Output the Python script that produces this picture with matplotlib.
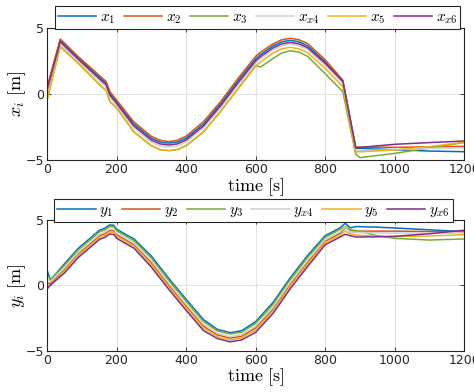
import matplotlib
matplotlib.use("Agg")
import matplotlib.pyplot as plt

plt.rcParams['mathtext.fontset'] = 'cm'
plt.rcParams['font.family'] = ['DejaVu Sans']

# ---------------- data: x positions ----------------
tx = [0, 38, 90, 157, 170, 181, 200, 250, 300, 325, 350, 375, 400, 450, 500, 550,
      600, 615, 650, 675, 700, 725, 750, 800, 851, 888, 900, 1000, 1100, 1200]
x1 = [0.40, 4.06, 2.74, 1.12, 0.82, 0.05, -0.56, -2.28, -3.35, -3.64, -3.72, -3.64, -3.35, -2.28, -0.72, 1.02,
      2.66, 3.00, 3.64, 3.95, 4.07, 3.95, 3.65, 2.45, 1.00, -4.10, -4.12, -4.22, -4.32, -4.37]
x2 = [0.50, 4.17, 2.83, 1.26, 0.95, 0.18, -0.45, -2.12, -3.20, -3.50, -3.61, -3.50, -3.20, -2.10, -0.55, 1.20,
      2.85, 3.18, 3.80, 4.11, 4.22, 4.11, 3.82, 2.60, 1.06, -4.02, -4.02, -4.04, -4.00, -3.97]
x3 = [-0.45, 3.60, 2.32, 0.55, 0.27, -0.58, -1.05, -2.87, -3.92, -4.21, -4.29, -4.21, -3.92, -2.87, -1.30, 0.42,
      2.15, 2.05, 2.70, 3.10, 3.28, 3.18, 2.85, 1.55, 0.18, -4.55, -4.82, -4.50, -4.08, -3.68]
x4 = [0.10, 3.80, 2.48, 0.84, 0.54, -0.24, -0.86, -2.58, -3.65, -3.94, -4.02, -3.94, -3.65, -2.58, -1.03, 0.70,
      2.35, 2.70, 3.34, 3.66, 3.78, 3.66, 3.36, 2.20, 0.82, -4.28, -4.30, -4.22, -4.13, -4.07]
x5 = [-0.45, 3.60, 2.32, 0.55, 0.27, -0.58, -1.05, -2.87, -3.92, -4.21, -4.29, -4.21, -3.92, -2.87, -1.30, 0.42,
      2.10, 2.45, 3.10, 3.42, 3.54, 3.42, 3.12, 1.95, 0.55, -4.37, -4.38, -4.24, -3.98, -3.66]
x6 = [0.30, 3.96, 2.63, 1.00, 0.70, -0.08, -0.70, -2.42, -3.49, -3.78, -3.86, -3.78, -3.49, -2.42, -0.87, 0.87,
      2.50, 2.85, 3.49, 3.80, 3.91, 3.80, 3.50, 2.33, 0.95, -4.07, -4.05, -3.81, -3.68, -3.56]

# ---------------- data: y positions ----------------
ty = [0, 10, 50, 90, 152, 165, 180, 192, 200, 250, 300, 350, 400, 450, 490, 527, 560, 600,
      650, 700, 750, 800, 843, 858, 872, 890, 950, 1000, 1100, 1200]
y1 = [1.18, 0.42, 1.65, 2.84, 4.24, 4.35, 4.62, 4.60, 4.30, 3.55, 2.25, 0.55, -1.05, -2.60, -3.35, -3.60, -3.45, -2.76,
      -1.30, 0.60, 2.30, 3.80, 4.40, 4.75, 4.40, 4.50, 4.45, 4.39, 4.25, 4.11]
y2 = [0.20, 0.15, 1.23, 2.42, 3.82, 3.93, 4.20, 4.18, 3.88, 3.13, 1.75, 0.05, -1.55, -3.10, -3.77, -4.02, -3.87, -3.24,
      -1.80, 0.10, 1.80, 3.38, 3.98, 4.39, 4.20, 4.15, 4.15, 4.15, 4.12, 4.10]
y3 = [0.80, 0.45, 1.52, 2.72, 4.12, 4.22, 4.50, 4.48, 4.18, 3.42, 2.10, 0.40, -1.20, -2.75, -3.47, -3.70, -3.57, -2.90,
      -1.45, 0.45, 2.15, 3.67, 4.28, 4.50, 4.25, 4.20, 3.80, 3.60, 3.47, 3.55]
y4 = [0.50, 0.30, 1.35, 2.54, 3.94, 4.05, 4.32, 4.30, 4.00, 3.25, 1.90, 0.19, -1.41, -2.96, -3.65, -3.90, -3.75, -3.10,
      -1.66, 0.24, 1.94, 3.50, 4.10, 4.45, 4.05, 4.05, 4.02, 4.00, 4.00, 4.00]
y5 = [0.00, 0.05, 1.10, 2.29, 3.69, 3.80, 4.07, 4.05, 3.75, 3.00, 1.59, -0.11, -1.71, -3.26, -3.90, -4.15, -4.00, -3.40,
      -1.96, -0.06, 1.64, 3.25, 3.85, 4.15, 3.95, 3.85, 3.75, 3.73, 3.78, 3.88]
y6 = [-0.27, 0.04, 0.95, 2.14, 3.54, 3.65, 3.92, 3.90, 3.60, 2.85, 1.41, -0.29, -1.89, -3.44, -4.05, -4.30, -4.15, -3.58,
      -2.14, -0.24, 1.46, 3.10, 3.70, 3.91, 3.80, 3.70, 3.72, 3.75, 3.95, 4.22]

x_labels = [r'$x_1$', r'$x_2$', r'$x_3$', r'$x_{x4}$', r'$x_5$', r'$x_{x6}$']
y_labels = [r'$y_1$', r'$y_2$', r'$y_3$', r'$y_{x4}$', r'$y_5$', r'$y_{x6}$']
colors = ['#0072BD', '#D95319', '#77AC30', '#D0D0D0', '#EDB120', '#7E2F8E']
xticks = [0, 200, 400, 600, 800, 1000, 1200]
yticks = [-5, 0, 5]

fig = plt.figure(figsize=(4.74, 3.92), dpi=100)
ax1 = fig.add_axes([0.0992, 0.5918, 0.880, 0.3367])
ax2 = fig.add_axes([0.0992, 0.1046, 0.880, 0.3342])


def style(ax, t, series, labels, ylab, anchor):
    for s, c, lab in zip(series, colors, labels):
        ax.plot(t, s, color=c, lw=1.1, label=lab)
    ax.set_xlim(0, 1200)
    ax.set_ylim(-5, 5)
    ax.set_xticks(xticks)
    ax.set_yticks(yticks)
    ax.grid(True, color='#e3e3e3', lw=0.8)
    ax.set_axisbelow(True)
    ax.tick_params(direction='in', length=3, width=0.6, labelsize=9, colors='#262626',
                   top=True, right=True, pad=2)
    for sp in ax.spines.values():
        sp.set_color('#262626')
        sp.set_linewidth(0.8)
    ax.set_xlabel(r'$\mathrm{time}\ [\mathrm{s}]$', fontsize=13, labelpad=0)
    ax.set_ylabel(ylab, fontsize=13)
    ax.yaxis.set_label_coords(-0.045, 0.5)
    leg = ax.legend(loc='lower center', bbox_to_anchor=anchor, ncol=6, fontsize=11,
                    handlelength=2.5, handletextpad=0.25, columnspacing=0.55,
                    frameon=True, fancybox=False, framealpha=1, edgecolor='#262626',
                    borderpad=0.2, borderaxespad=0)
    leg.get_frame().set_linewidth(0.8)


style(ax1, tx, [x1, x2, x3, x4, x5, x6], x_labels, r'$x_i\ [\mathrm{m}]$', (0.505, 0.995))
style(ax2, ty, [y1, y2, y3, y4, y5, y6], y_labels, r'$y_i\ [\mathrm{m}]$', (0.495, 0.985))

fig.savefig('out.png', dpi=100)
